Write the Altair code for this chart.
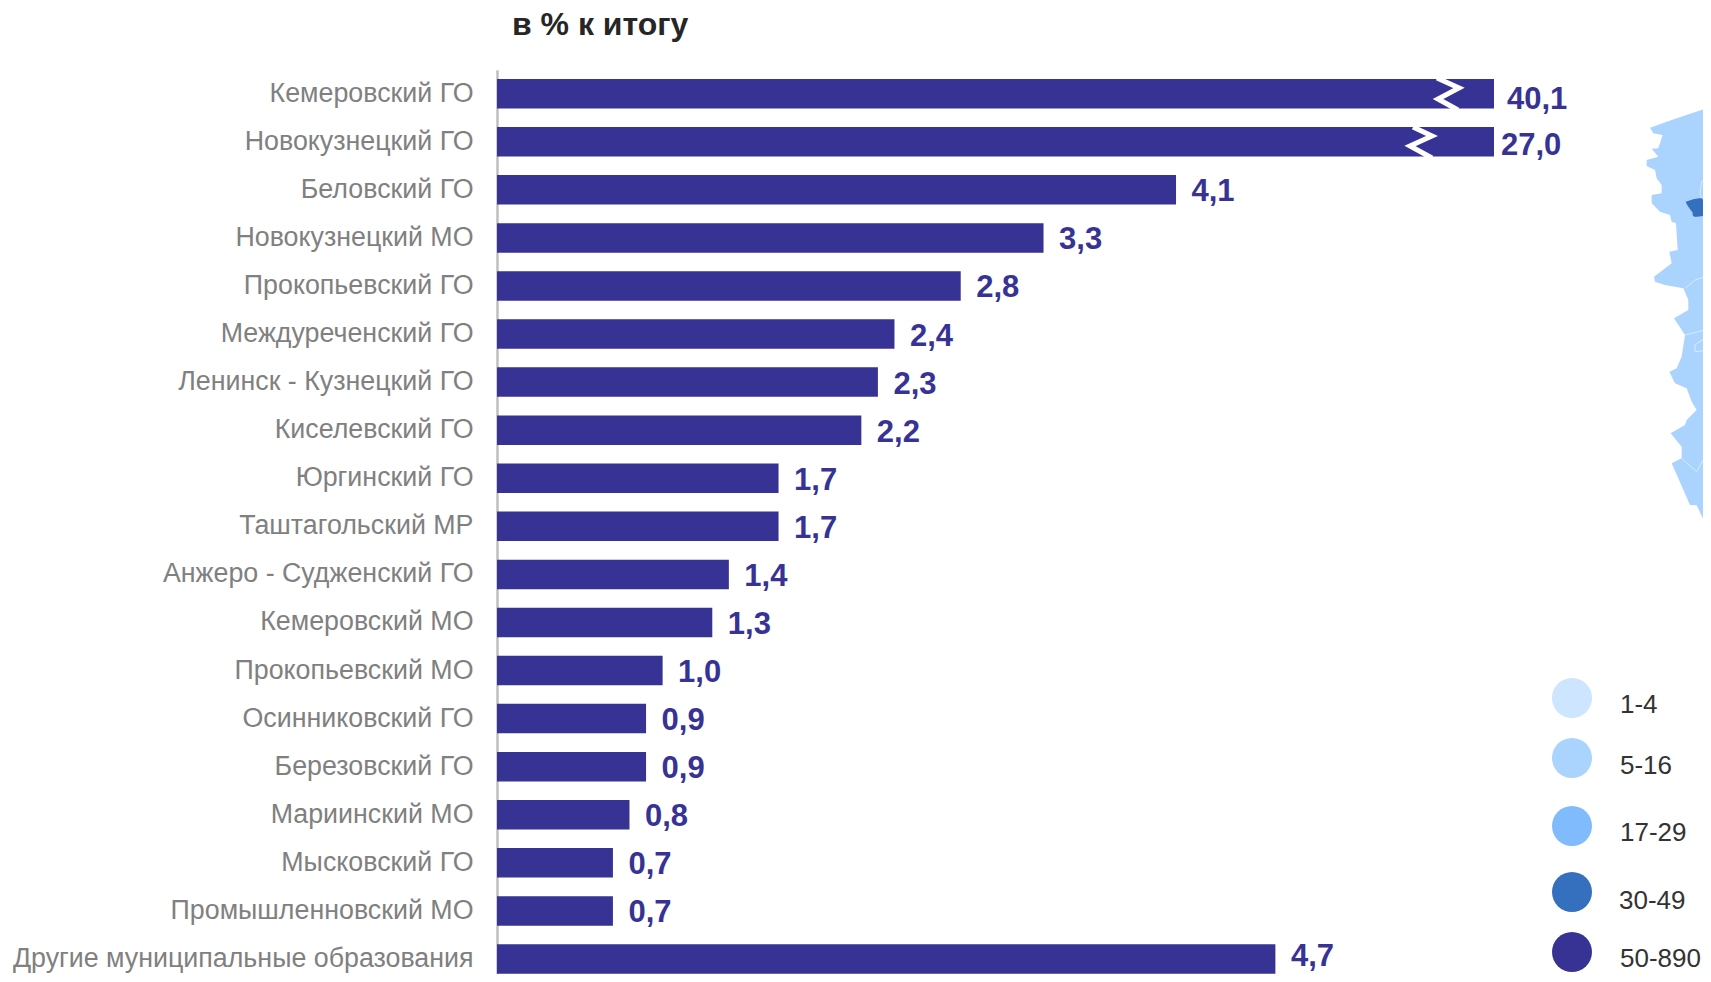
import altair as alt
import pandas as pd

# Bars
categories = ["Кемеровский ГО", "Новокузнецкий ГО", "Беловский ГО", "Новокузнецкий МО",
              "Прокопьевский ГО", "Междуреченский ГО", "Ленинск - Кузнецкий ГО", "Киселевский ГО",
              "Юргинский ГО", "Таштагольский МР", "Анжеро - Судженский ГО", "Кемеровский МО",
              "Прокопьевский МО", "Осинниковский ГО", "Березовский ГО", "Мариинский МО",
              "Мысковский ГО", "Промышленновский МО", "Другие муниципальные образования"]
values = [40.1, 27.0, 4.1, 3.3, 2.8, 2.4, 2.3, 2.2, 1.7, 1.7, 1.4, 1.3, 1.0, 0.9, 0.9, 0.8, 0.7, 0.7, 4.7]
value_labels = ["40,1", "27,0", "4,1", "3,3", "2,8", "2,4", "2,3", "2,2", "1,7", "1,7", "1,4", "1,3",
                "1,0", "0,9", "0,9", "0,8", "0,7", "0,7", "4,7"]
axis_break = 6.02   # the two longest bars are cut here

# Break marks on the two long bars (picture px)
zig1_x = [1437, 1459, 1438, 1458]
zig1_y = [78, 88, 99, 110]
zig2_x = [1413, 1432, 1410, 1432]
zig2_y = [127, 136, 146, 158]

# Legend
legend_labels = ["1-4", "5-16", "17-29", "30-49", "50-890"]
legend_colors = ["#cde5ff", "#aad3fd", "#7fbbfd", "#3570bf", "#373394"]
legend_cy = [698, 758, 826, 892, 952]
legend_ty = [705, 766, 833, 901, 959]
legend_tx = [1620, 1620, 1620, 1619, 1620]

# Map fragment, in zoomed-crop units (x = 1300 + zx/3, y = 60 + zy/3)
map_zx = [1233, 1130, 1050, 1060, 1088, 1075, 1055, 1075, 1040, 1040, 1065, 1070, 1085, 1085, 1055, 1055,
          1080, 1110, 1115, 1128, 1133, 1108, 1115, 1062, 1065, 1095, 1150, 1165, 1165, 1122, 1155, 1145,
          1130, 1108, 1125, 1160, 1175, 1190, 1160, 1155, 1112, 1145, 1145, 1115, 1170, 1190, 1233]
map_zy = [140, 175, 203, 220, 225, 265, 266, 290, 300, 318, 330, 355, 375, 400, 405, 430,
          455, 465, 485, 490, 570, 575, 610, 650, 665, 675, 685, 720, 750, 775, 825, 890,
          925, 935, 970, 985, 1025, 1050, 1080, 1095, 1120, 1160, 1195, 1210, 1335, 1336, 1425]
city_zy = [415, 418, 425, 432, 440, 450, 458, 466, 470]
city_zl = [1197, 1180, 1157, 1160, 1165, 1172, 1178, 1178, 1182]
city_zr = [1205, 1208, 1212, 1214, 1216, 1220, 1224, 1222, 1192]
border_lines = [
    [(1233, 190), (1215, 215), (1215, 245), (1233, 265)],
    [(1233, 345), (1205, 365), (1200, 400), (1205, 420)],
    [(1155, 685), (1185, 660), (1215, 650), (1233, 640)],
    [(1155, 825), (1215, 810), (1220, 830), (1185, 855), (1185, 875), (1233, 870)],
    [(1145, 1195), (1190, 1235), (1215, 1190), (1233, 1220)],
]

STEP = 48.07
W, H = 1214, 19 * STEP
X0, Y0 = 497, 69.67
PAGE_RIGHT, PAGE_BOTTOM = 1703, 974   # the svg stops here: the page has an 8px margin


def px(zx):
    return 1300 + zx / 3


def py(zy):
    return 60 + zy / 3


x_px = alt.Scale(domain=[X0, X0 + W], range=[0, W])
y_px = alt.Scale(domain=[Y0, Y0 + H], range=[0, H])

bars_df = pd.DataFrame({"cat": categories, "value": values, "label": value_labels})
x_bar = alt.X("value:Q", axis=None, scale=alt.Scale(domain=[0, axis_break], range=[0, 997], clamp=True))
y_bar = alt.Y("cat:N", sort=categories, title=None,
              scale=alt.Scale(domain=categories, range=[0, H], paddingInner=0.39, paddingOuter=0.195),
              axis=alt.Axis(ticks=False, labelFont="Liberation Sans", labelFontSize=26.8, labelColor="#808080",
                            labelPadding=24, domainColor="#bfbfbf", domainWidth=2.5, labelLimit=600,
                            grid=False))

bars = alt.Chart(bars_df).mark_bar(color="#373394", size=29.5).encode(x=x_bar, y=y_bar)


def value_text(label_filter, dx, dy):
    return alt.Chart(bars_df).transform_filter(label_filter).mark_text(
        align="left", baseline="middle", font="Liberation Sans", fontSize=31, fontWeight="bold",
        color="#373394", dx=dx, dy=dy
    ).encode(x=x_bar, y=y_bar, text="label:N")


txt_a = value_text("datum.label == '40,1'", 13, 6)
txt_b = value_text("datum.label == '27,0'", 7, 4)
txt_c = value_text("datum.label != '40,1' && datum.label != '27,0' && datum.label != '4,7'", 15.5, 2.5)
txt_d = value_text("datum.label == '4,7'", 15.5, -2)
bar_layer = alt.layer(bars, txt_a, txt_b, txt_c, txt_d)

X = lambda f: alt.X(f, scale=x_px, axis=None, stack=None)
Y = lambda f: alt.Y(f, scale=y_px, axis=None)

zig_df = pd.DataFrame({
    "x": zig1_x + zig2_x, "y": zig1_y + zig2_y,
    "g": ["a"] * len(zig1_x) + ["b"] * len(zig2_x),
    "o": list(range(len(zig1_x))) + list(range(len(zig2_x))),
})
zig = alt.Chart(zig_df).mark_line(color="white", strokeWidth=5).encode(
    x=X("x:Q"), y=Y("y:Q"), detail="g:N", order="o:Q")

map_df = pd.DataFrame({"x": [px(v) for v in map_zx], "y": [py(v) for v in map_zy], "x2": [1711] * len(map_zx)})
map_area = alt.Chart(map_df).mark_area(color="#aad3fd", orient="horizontal", opacity=1).encode(
    x=X("x:Q"), x2="x2:Q", y=Y("y:Q"))

bl = [{"x": px(a), "y": py(b), "g": i, "o": j} for i, ln in enumerate(border_lines) for j, (a, b) in enumerate(ln)]
borders = alt.Chart(pd.DataFrame(bl)).mark_line(color="#d9ebff", strokeWidth=1).encode(
    x=X("x:Q"), y=Y("y:Q"), detail="g:N", order="o:Q")

city_df = pd.DataFrame({"x": [px(v) for v in city_zl], "x2": [px(v) for v in city_zr], "y": [py(v) for v in city_zy]})
city = alt.Chart(city_df).mark_area(color="#3570bf", orient="horizontal", opacity=1).encode(
    x=X("x:Q"), x2="x2:Q", y=Y("y:Q"))

leg_df = pd.DataFrame({"label": legend_labels, "color": legend_colors, "cy": legend_cy, "ty": legend_ty,
                       "tx": legend_tx, "cx": [1572] * 5})
circles = alt.Chart(leg_df).mark_circle(size=1600, opacity=1).encode(
    x=X("cx:Q"), y=Y("cy:Q"), color=alt.Color("color:N", scale=None))
leg_text = alt.Chart(leg_df).mark_text(align="left", baseline="middle", font="Liberation Sans", fontSize=26,
                                       color="#333333").encode(x=X("tx:Q"), y=Y("ty:Q"), text="label:N")

title_df = pd.DataFrame({"x": [512], "y": [25], "t": ["в % к итогу"]})
title = alt.Chart(title_df).mark_text(align="left", baseline="middle", font="Liberation Sans", fontSize=32,
                                      fontWeight="bold", color="#262626").encode(
    x=X("x:Q"), y=Y("y:Q"), text="t:N")

px_layer = alt.layer(map_area, borders, city, zig, circles, leg_text, title)

chart = alt.layer(bar_layer, px_layer).resolve_scale(x="independent", y="independent").properties(
    width=PAGE_RIGHT - X0, height=PAGE_BOTTOM - Y0,
    autosize=alt.AutoSizeParams(type="none"),
    padding={"left": X0 - 8, "top": Y0 - 8, "right": 0, "bottom": 0},
).configure_view(stroke=None)

chart.save("out.html", embed_options={"renderer": "svg", "actions": False})
